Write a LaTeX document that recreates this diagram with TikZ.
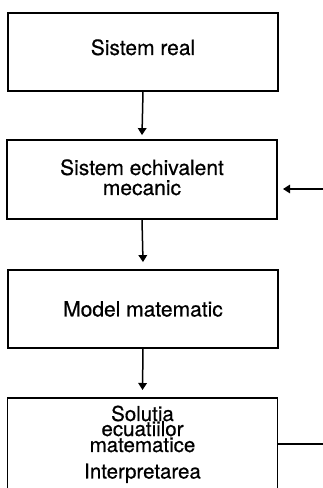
\documentclass[tikz,border=0pt]{standalone}
\usepackage{fontspec}
\setmainfont{TeX Gyre Heros}[FakeBold=0.6]
\usetikzlibrary{arrows.meta}
\begin{document}
\begin{tikzpicture}[x=1pt,y=1pt,
  boxnode/.style={draw=black,line width=1.8pt,minimum width=270pt,inner sep=0pt},
  txt/.style={inner sep=0pt,font=\fontsize{21}{21}\selectfont,anchor=base},
  stxt/.style={inner sep=0pt,font=\fontsize{20.5}{20}\selectfont,anchor=base},
  arr/.style={line width=1.5pt,-{Triangle[width=8.5pt,length=7pt]}},
  ln/.style={line width=1.5pt}]
\useasboundingbox (0,0) rectangle (323,488);
\node[boxnode,minimum height=78pt] (box1) at (143,436) {};
\node[boxnode,minimum height=79pt] (box2) at (142,308.5) {};
\node[boxnode,minimum height=78pt] (box3) at (143,179) {};
\node[boxnode,minimum height=110pt,anchor=north] (box4) at (142.5,91) {};
\node[txt] (a1) at (143,433) {Sistem real};
\node[txt] (b1) at (142,313) {Sistem echivalent};
\node[txt] (b2) at (142,293) {mecanic};
\node[txt] (c1) at (143,171.5) {Model matematic};
\node[stxt] (t1) at (142.5,67) {Solutia};
\node[stxt] (t2) at (142.5,52) {ecuatiilor};
\node[stxt] (t3) at (142.5,36) {matematice};
\node[stxt] (t4) at (142.5,9.5) {Interpretarea};
\draw[arr] (box1.south) -- ([yshift=4pt]box2.north);
\draw[arr] (box2.south) -- ([yshift=7pt]box3.north);
\draw[arr] (box3.south) -- ([yshift=7pt]box4.north);
\coordinate (in1) at (323,299);
\coordinate (in2) at (283,299);
\draw[arr] (in1) -- (in2);
\coordinate (out1) at (323,44);
\draw[ln] (box4.east |- out1) -- (out1);
\end{tikzpicture}
\end{document}
